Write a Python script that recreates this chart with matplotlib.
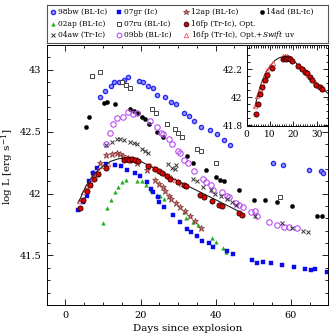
import numpy as np
import matplotlib
matplotlib.use("Agg")
import matplotlib.pyplot as plt
from matplotlib.ticker import MultipleLocator, FuncFormatter

plt.rcParams['font.family'] = ['DejaVu Serif']
plt.rcParams['mathtext.fontset'] = 'dejavuserif'

# --- data (days since explosion, log L) ---
d98bw = [9.1, 10.4, 12.1, 13.0, 14.2, 15.5, 16.6, 19.6, 20.7, 22.1, 23.2, 24.4, 26.6, 28.2,
         29.4, 31.5, 32.8, 34.3, 36.1, 38.4, 40.4, 42.3, 43.8, 55.4, 57.9, 64.9, 68.0, 68.5]
l98bw = [42.78, 42.83, 42.87, 42.90, 42.90, 42.92, 42.94, 42.91, 42.90, 42.87, 42.85, 42.80, 42.78, 42.74,
         42.72, 42.65, 42.63, 42.59, 42.54, 42.51, 42.48, 42.43, 42.39, 42.25, 42.23, 42.19, 42.18, 42.17]

d07gr = [3.4, 4.6, 5.8, 6.3, 7.2, 8.3, 10.8, 13.1, 14.7, 16.5, 18.5, 19.8, 21.6, 22.7, 23.4, 24.7,
         25.0, 26.3, 28.7, 30.5, 32.4, 33.5, 35.0, 36.4, 38.2, 39.4, 42.9, 44.7, 49.8, 51.0, 52.5,
         54.8, 57.8, 60.8, 63.8, 65.3, 66.5, 69.6]
l07gr = [41.87, 41.93, 41.98, 42.10, 42.17, 42.21, 42.24, 42.23, 42.22, 42.19, 42.17, 42.14, 42.09, 42.04, 42.01, 41.97,
         41.93, 41.89, 41.83, 41.77, 41.71, 41.69, 41.66, 41.62, 41.60, 41.57, 41.54, 41.51, 41.46, 41.44, 41.45,
         41.44, 41.42, 41.41, 41.39, 41.38, 41.39, 41.37]

d12ap = [7.4, 9.2, 10.9, 12.4, 13.6, 14.5, 15.4, 16.7, 17.9, 19.0, 21.8, 23.8, 25.0, 25.9, 26.6,
         27.6, 28.2, 29.5, 30.4, 31.8, 33.1, 34.4, 36.0]
l12ap = [42.17, 42.25, 42.31, 42.32, 42.33, 42.32, 42.30, 42.29, 42.27, 42.25, 42.19, 42.11, 42.08, 42.05, 42.02,
         41.98, 41.96, 41.92, 41.89, 41.86, 41.82, 41.78, 41.72]

d14ad = [5.4, 6.3, 10.2, 11.1, 13.3, 17.3, 18.3, 19.2, 20.3, 21.3, 22.2, 24.4, 26.0, 32.3, 33.9,
         37.3, 40.1, 41.1, 42.2, 46.1, 50.3, 53.1, 56.3, 60.2, 67.1, 68.3]
l14ad = [42.54, 42.62, 42.73, 42.74, 42.72, 42.68, 42.67, 42.65, 42.62, 42.60, 42.56, 42.50, 42.46, 42.30, 42.25,
         42.19, 42.13, 42.11, 42.10, 42.03, 41.95, 41.95, 41.93, 41.90, 41.82, 41.82]

d02ap = [9.9, 11.0, 12.1, 13.1, 14.0, 15.0, 16.0, 19.1, 20.3, 21.4, 22.9, 24.4, 25.2, 26.2,
         31.5, 32.1, 33.9, 35.2, 38.9, 40.0, 42.0, 42.8]
l02ap = [41.76, 41.88, 41.95, 42.01, 42.05, 42.09, 42.11, 42.10, 42.10, 42.07, 42.03, 41.99, 41.98, 41.96,
         41.85, 41.80, 41.77, 41.75, 41.64, 41.61, 41.56, 41.53]

d07ru = [7.0, 9.1, 15.0, 16.0, 17.1, 23.0, 24.1, 27.1, 29.1, 30.0, 31.0, 35.0, 36.1, 40.1, 57.1]
l07ru = [42.95, 42.98, 42.90, 42.88, 42.85, 42.68, 42.65, 42.56, 42.52, 42.49, 42.46, 42.36, 42.34, 42.25, 41.97]

d04aw = [10.9, 12.5, 13.6, 14.5, 15.5, 17.2, 18.3, 19.1, 20.4, 21.3, 22.0, 27.4, 28.3, 29.2, 29.5,
         33.9, 35.0, 36.6, 38.7, 39.8, 41.4, 42.9, 44.4, 45.5, 50.4, 57.6, 60.3, 63.3, 64.7]
l04aw = [42.39, 42.42, 42.44, 42.44, 42.43, 42.42, 42.41, 42.40, 42.36, 42.34, 42.33, 42.24, 42.21, 42.20, 42.23,
         42.12, 42.10, 42.05, 42.03, 42.00, 41.98, 41.96, 41.93, 41.91, 41.82, 41.76, 41.72, 41.70, 41.69]

d09bb = [10.8, 11.9, 12.7, 13.7, 15.2, 16.6, 17.9, 19.0, 22.4, 24.4, 25.5, 26.0, 27.5, 28.5, 30.0,
         30.6, 31.6, 32.7, 34.2, 36.6, 37.5, 38.8, 39.4, 41.6, 43.0, 43.6, 45.4, 46.3, 47.4, 49.3,
         50.5, 51.1, 54.3, 56.3, 58.3, 59.4, 61.6]
l09bb = [42.40, 42.49, 42.56, 42.61, 42.62, 42.66, 42.64, 42.65, 42.59, 42.54, 42.49, 42.48, 42.44, 42.40, 42.34,
         42.33, 42.27, 42.25, 42.18, 42.12, 42.09, 42.07, 42.03, 42.01, 41.98, 41.97, 41.92, 41.91, 41.89, 41.85,
         41.86, 41.82, 41.77, 41.75, 41.73, 41.73, 41.72]

d16opt = [3.8, 4.7, 5.7, 6.5, 7.7, 8.6, 10.9, 15.6, 16.3, 17.0, 17.8, 18.6, 19.3, 22.0, 23.9, 24.9,
          25.8, 27.0, 27.8, 29.9, 31.6, 32.2, 35.8, 36.9, 39.0, 40.8, 41.8, 46.1, 47.0]
l16opt = [41.88, 41.95, 42.02, 42.07, 42.12, 42.16, 42.21, 42.27, 42.28, 42.27, 42.28, 42.27, 42.26, 42.22, 42.20, 42.18,
          42.17, 42.14, 42.12, 42.09, 42.07, 42.06, 41.99, 41.97, 41.94, 41.91, 41.90, 41.84, 41.83]

d16uv = [3.5, 4.6, 5.6, 6.4, 7.8, 8.7, 10.1, 11.2, 15.5, 16.3, 17.2, 18.2, 19.0, 22.5, 23.6, 24.5,
         25.3, 26.5, 28.0, 29.3, 30.8, 32.2]
l16uv = [41.94, 42.01, 42.06, 42.10, 42.16, 42.19, 42.22, 42.24, 42.29, 42.29, 42.29, 42.28, 42.28, 42.23, 42.21, 42.20,
         42.18, 42.16, 42.13, 42.11, 42.08, 42.06]

dmodel = [3.5, 4.5, 5.5, 6.5, 8.0, 10.0, 12.0, 14.0, 16.0, 18.0, 20.0, 22.0, 24.0, 26.0, 28.0,
          30.0, 32.0, 34.0, 36.0, 38.0, 40.0, 42.0, 44.0, 46.5]
lmodel = [41.93, 42.00, 42.06, 42.11, 42.17, 42.22, 42.26, 42.28, 42.29, 42.28, 42.26, 42.23, 42.20, 42.17, 42.13,
          42.10, 42.07, 42.04, 42.01, 41.98, 41.95, 41.92, 41.89, 41.85]

labels = ['98bw (BL-Ic)', '07gr (Ic)', '12ap (BL-Ic)', '14ad (BL-Ic)',
          '02ap (BL-Ic)', '07ru (BL-Ic)', '16fp (Tr-Ic), Opt.',
          '04aw (Tr-Ic)', '09bb (BL-Ic)', r'16fp (Tr-Ic), Opt.+$\mathit{Swift}$ uv']

styles = {
    '98bw': dict(marker='o', ms=3.0, mfc='#9da0ff', mec='#2b2bf0', mew=1.0, ls='none'),
    '07gr': dict(marker='s', ms=2.4, mfc='#0a0aee', mec='#0a0aee', mew=0.3, ls='none'),
    '12ap': dict(marker='*', ms=4.6, mfc='#c97d7d', mec='#8c3b3b', mew=0.6, ls='none'),
    '14ad': dict(marker='o', ms=3.0, mfc='black', mec='black', mew=0.3, ls='none'),
    '02ap': dict(marker='^', ms=2.6, mfc='#1fae1f', mec='#1fae1f', mew=0.3, ls='none'),
    '07ru': dict(marker='s', ms=2.8, mfc='white', mec='#444444', mew=0.7, ls='none'),
    '16opt': dict(marker='o', ms=3.7, mfc='#e00000', mec='#220000', mew=0.6, ls='none'),
    '04aw': dict(marker='x', ms=2.8, mfc='none', mec='#333333', mew=0.7, ls='none'),
    '09bb': dict(marker='o', ms=3.9, mfc='none', mec='#b84ef0', mew=0.8, ls='none'),
    '16uv': dict(marker='^', ms=3.2, mfc='none', mec='#ff5050', mew=0.6, ls='none'),
}

fig = plt.figure(figsize=(3.36, 3.36), dpi=100)
W = 336.0
fmt = FuncFormatter(lambda v, p: '%g' % round(v, 3))


def px_axes(x0, x1, y0, y1):
    return fig.add_axes([x0 / W, 1 - y1 / W, (x1 - x0) / W, (y1 - y0) / W])


def style_ax(ax, xmaj, xmin, ymaj, ymin, lab=7):
    ax.xaxis.set_major_locator(MultipleLocator(xmaj))
    ax.xaxis.set_minor_locator(MultipleLocator(xmin))
    ax.yaxis.set_major_locator(MultipleLocator(ymaj))
    ax.yaxis.set_minor_locator(MultipleLocator(ymin))
    ax.xaxis.set_major_formatter(fmt)
    ax.yaxis.set_major_formatter(fmt)
    ax.tick_params(which='both', direction='in', top=True, right=True, width=0.6,
                   labelsize=lab, pad=4)
    ax.tick_params(which='major', length=4.5)
    ax.tick_params(which='minor', length=2.3)
    for s in ax.spines.values():
        s.set_linewidth(0.7)


ax = px_axes(46.7, 328.3, 45, 305)
ax.plot(d98bw, l98bw, **styles['98bw'])
ax.plot(d07ru, l07ru, **styles['07ru'])
ax.plot(d14ad, l14ad, **styles['14ad'])
ax.plot(d09bb, l09bb, **styles['09bb'])
ax.plot(d04aw, l04aw, **styles['04aw'])
ax.plot(d02ap, l02ap, **styles['02ap'])
ax.plot(d12ap, l12ap, **styles['12ap'])
ax.plot(d07gr, l07gr, **styles['07gr'])
ax.plot(d16uv, l16uv, **styles['16uv'])
ax.plot(dmodel, lmodel, color='#222222', lw=0.8)
ax.plot(d16opt, l16opt, **styles['16opt'])
ax.set_xlim(-5, 70)
ax.set_ylim(41.1, 43.2)
style_ax(ax, 20, 5, 0.5, 0.1, lab=7)
ax.set_xlabel('Days since explosion', fontsize=7.5, labelpad=3)
ax.set_ylabel(r'log L [erg s$^{-1}$]', fontsize=7.5)
ax.yaxis.set_label_coords(-0.108, 0.53)

# inset
ins = px_axes(246.7, 328.3, 45, 125.5)
ins.set_facecolor('white')
ins.plot(dmodel, lmodel, color='#222222', lw=0.8)
ins.plot(d16uv, l16uv, **styles['16uv'])
ins.plot(d16opt, l16opt, **styles['16opt'])
ins.set_xlim(0, 35)
ins.set_ylim(41.8, 42.37)
style_ax(ins, 10, 1, 0.2, 0.05, lab=6.5)
ins.tick_params(which='major', length=3.5, pad=3)
ins.tick_params(which='minor', length=1.8)

# legend box drawn by hand (entries overlap columns as in the original)
lax = px_axes(46.7, 328.3, 5, 42.5)
lax.set_xlim(46.7, 328.3)
lax.set_ylim(42.5, 5)
lax.set_xticks([])
lax.set_yticks([])
for s in lax.spines.values():
    s.set_linewidth(0.8)
    s.set_color('#555555')
cols = [52.5, 119.3, 186.0, 261.5]
rows = [12.0, 24.0, 35.3]
slots = [(0, 0), (1, 0), (2, 0), (3, 0), (0, 1), (1, 1), (2, 1), (0, 2), (1, 2), (2, 2)]
keys = ['98bw', '07gr', '12ap', '14ad', '02ap', '07ru', '16opt', '04aw', '09bb', '16uv']
for (c, r), k, lab in zip(slots, keys, labels):
    st = dict(styles[k])
    st['ms'] = min(st['ms'], 3.4) if k != '12ap' else 4.2
    lax.plot([cols[c]], [rows[r]], clip_on=False, **st)
    lax.text(cols[c] + 5, rows[r], lab, fontsize=5.4, va='center', ha='left')

fig.savefig('out.png', dpi=100)
